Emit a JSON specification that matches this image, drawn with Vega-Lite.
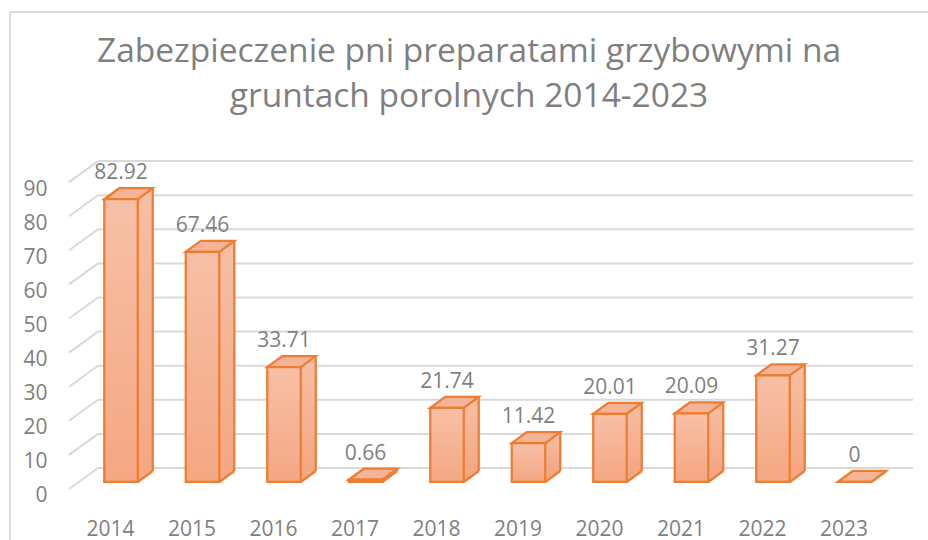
{
"$schema":"https://vega.github.io/schema/vega-lite/v6.json",
"width":918,"height":528,
"padding":{"left":10,"top":12,"right":0,"bottom":0},
"autosize":{"type":"none"},
"background":"#ffffff",
"view":{"stroke":null},
"title":{"text":["Zabezpieczenie pni preparatami grzybowymi na","gruntach porolnych 2014-2023"],"font":"Open Sans","fontSize":33.5,"fontWeight":"normal","color":"#7f7f7f","anchor":"middle","frame":"group","offset":-103,"lineHeight":45},
"datasets":{
"bars":[{"year":2014,"v":82.92},{"year":2015,"v":67.46},{"year":2016,"v":33.71},{"year":2017,"v":0.66},{"year":2018,"v":21.74},{"year":2019,"v":11.42},{"year":2020,"v":20.01},{"year":2021,"v":20.09},{"year":2022,"v":31.27},{"year":2023,"v":0}],
"grid":[{"v":0},{"v":10},{"v":20},{"v":30},{"v":40},{"v":50},{"v":60},{"v":70},{"v":80},{"v":90}]
},
"layer":[
{"data":{"name":"grid"},"mark":{"type":"rule","stroke":"#d9d9d9","strokeWidth":2,"yOffset":-14},
 "encoding":{"y":{"field":"v","type":"quantitative","scale":{"domain":[-17.009,137.83],"nice":false,"zero":false,"padding":0},
   "axis":{"orient":"left","offset":-37,"values":[0,10,20,30,40,50,60,70,80,90],"title":null,"grid":false,"domain":false,"ticks":false,"labelPadding":0,"labelOffset":14,"labelFont":"Open Sans","labelFontSize":21,"labelColor":"#7f7f7f"}},
  "x":{"datum":2013.718,"type":"quantitative","scale":{"domain":[2012.638,2023.902],"nice":false,"zero":false,"padding":0},
   "axis":{"orient":"bottom","offset":-22,"values":[2014,2015,2016,2017,2018,2019,2020,2021,2022,2023],"format":"d","title":null,"grid":false,"domain":false,"ticks":false,"labelPadding":0,"labelOffset":-11,"labelFlush":false,"labelOverlap":false,"labelFont":"Open Sans","labelFontSize":21,"labelColor":"#7f7f7f"}},
  "x2":{"datum":2023.718}}},
{"data":{"name":"grid"},"mark":{"type":"point","shape":"M-29,21L0,0","size":4,"filled":false,"stroke":"#d9d9d9","strokeWidth":2,"opacity":1,"yOffset":-14},
 "encoding":{"y":{"field":"v","type":"quantitative"},"x":{"datum":2013.718,"type":"quantitative"}}},
{"data":{"values":[{"k":"left"}]},"mark":{"type":"rule","stroke":"#d9d9d9","strokeWidth":2},"encoding":{"x":{"datum":2012.638,"type":"quantitative"}}},
{"data":{"values":[{"k":"top"}]},"mark":{"type":"rule","stroke":"#d9d9d9","strokeWidth":2},"encoding":{"y":{"datum":137.83,"type":"quantitative"}}},
{"data":{"name":"bars"},
 "encoding":{"x":{"field":"year","type":"quantitative"},"y":{"field":"v","type":"quantitative","stack":null}},
 "layer":[
  {"mark":{"type":"bar","orient":"vertical","size":15,"xOffset":24.25,"yOffset":-11,"y2Offset":-11,"fill":{"x1":0,"y1":0,"x2":0,"y2":1,"gradient":"linear","stops":[{"offset":0,"color":"#f6bfa5"},{"offset":1,"color":"#f4a782"}]}},"encoding":{"y2":{"datum":0}}},
  {"mark":{"type":"point","shape":"M16.75,0L31.75,-11L16.75,-11Z","size":4,"filled":true,"fill":"#f4a782","stroke":null,"opacity":1},"encoding":{"y":{"datum":0,"type":"quantitative"}}},
  {"mark":{"type":"rule","stroke":"#ed7d31","strokeWidth":2.25,"xOffset":31.75,"yOffset":-11,"y2Offset":-11},"encoding":{"y2":{"datum":0}}},
  {"mark":{"type":"point","shape":"M16.75,0L31.75,-11","size":4,"filled":false,"stroke":"#ed7d31","strokeWidth":2.25,"opacity":1},"encoding":{"y":{"datum":0,"type":"quantitative"}}},
  {"mark":{"type":"point","shape":"M-16.75,0L16.75,0L31.75,-11L-1.75,-11Z","size":4,"filled":true,"fill":"#f5b497","stroke":"#ed7d31","strokeWidth":2.25,"opacity":1}},
  {"mark":{"type":"bar","orient":"vertical","size":33.5,"stroke":"#ed7d31","strokeWidth":2.25,"fill":{"x1":0,"y1":0,"x2":0,"y2":1,"gradient":"linear","stops":[{"offset":0,"color":"#f7c0a7"},{"offset":1,"color":"#f4a782"}]}}},
  {"mark":{"type":"text","dy":-26,"baseline":"middle","align":"center","font":"Open Sans","fontSize":21,"fill":"#7f7f7f"},"encoding":{"text":{"field":"v","type":"nominal"}}}
 ]}
]
}
